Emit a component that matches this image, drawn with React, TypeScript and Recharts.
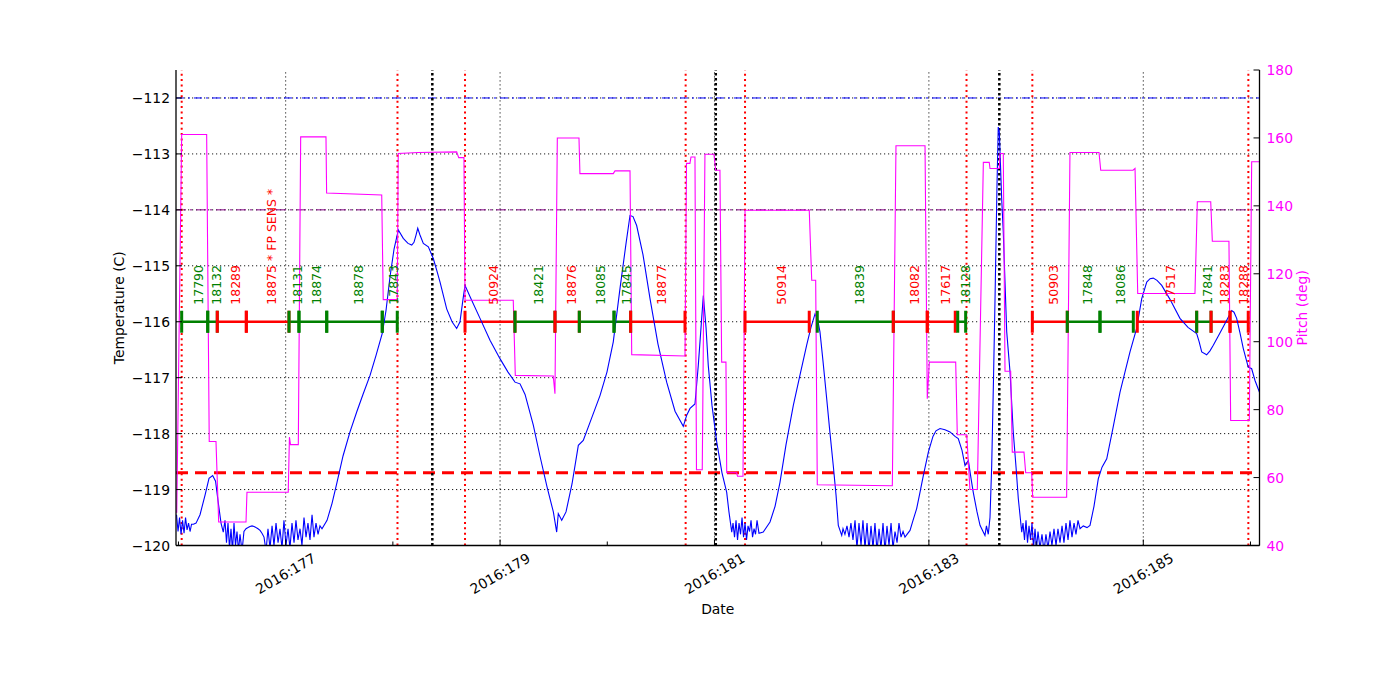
import React from 'react';
import { ComposedChart, Line, XAxis, YAxis, ReferenceLine, Scatter } from 'recharts';

const FONT = '"DejaVu Sans", "Liberation Sans", sans-serif';

// ---------- axes ----------
const X_DOMAIN: [number, number] = [175.977, 186.084];
const DAY_TICKS = [176, 177, 178, 179, 180, 181, 182, 183, 184, 185, 186];
const LABELED_DAYS = [177, 179, 181, 183, 185];
const TEMP_DOMAIN: [number, number] = [-120, -111.5];
const TEMP_TICKS = [-120, -119, -118, -117, -116, -115, -114, -113, -112];
const TEMP_GRID = [-119, -118, -117, -116, -115, -114, -113, -112];
const PITCH_DOMAIN: [number, number] = [40, 180];
const PITCH_TICKS = [40, 60, 80, 100, 120, 140, 160, 180];

// ---------- limit lines ----------
const PLANNING_LIMIT = -112;
const YELLOW_LIMIT = -114;
const ACIS_I_LIMIT = -118.7;
const RADZONE_DAYS = [176.03, 178.043, 178.673, 180.731, 181.285, 183.351, 183.965, 185.98];
const PERIGEE_DAYS = [178.368, 181.012, 183.657];

// ---------- observation schedule ----------
const SCHED_LEVEL = -116;
const SEG_START = [176.030, 176.273, 176.362, 176.633, 177.031, 177.124, 177.383, 177.901,
  178.673, 179.139, 179.512, 179.739, 180.063, 180.218,
  181.285, 181.959, 182.668, 182.985, 183.269,
  183.965, 184.291, 184.596, 184.944, 185.498, 185.632, 185.809];
const SEG_END = [176.273, 176.362, 176.633, 177.031, 177.124, 177.383, 177.901, 178.041,
  179.139, 179.512, 179.739, 180.063, 180.218, 180.725,
  181.884, 182.668, 182.985, 183.246, 183.343,
  184.291, 184.596, 184.907, 185.498, 185.632, 185.809, 185.979];
const SEG_OBSID = ['17790', '18132', '18289', '18875 * FP SENS *', '18131', '18874', '18878', '17843',
  '50924', '18421', '18876', '18085', '17845', '18877',
  '50914', '18839', '18082', '17617', '18128',
  '50903', '17848', '18086', '17517', '17841', '18283', '18288'];
const SEG_KIND = ['g', 'g', 'r', 'r', 'g', 'g', 'g', 'g',
  'r', 'g', 'r', 'g', 'g', 'r',
  'r', 'g', 'r', 'r', 'g',
  'r', 'g', 'g', 'r', 'g', 'r', 'r'];

// ---------- FPTEMP (C) ----------
const TEMP_POINTS: [number, number][] = [
  [175.982, -119.45], [175.996, -119.75], [176.010, -119.5], [176.024, -119.8], [176.038, -119.55],
  [176.052, -119.78], [176.066, -119.5], [176.080, -119.72], [176.094, -119.6], [176.108, -119.75],
  [176.122, -119.62], [176.140, -119.62], [176.164, -119.6], [176.201, -119.45], [176.248, -119.1],
  [176.285, -118.8], [176.319, -118.75], [176.346, -118.85], [176.369, -119.2], [176.397, -119.6],
  [176.418, -119.76], [176.434, -119.55], [176.448, -119.95], [176.462, -119.6], [176.476, -120.05],
  [176.490, -119.7], [176.504, -120.1], [176.518, -119.6], [176.532, -120.0], [176.546, -119.75],
  [176.560, -120.1], [176.574, -119.8], [176.593, -120.1], [176.611, -119.75], [176.630, -119.7],
  [176.649, -119.68], [176.667, -119.66], [176.686, -119.65], [176.705, -119.66], [176.723, -119.68],
  [176.742, -119.7], [176.761, -119.73], [176.779, -119.78], [176.798, -119.85], [176.817, -120.1],
  [176.835, -119.7], [176.854, -120.05], [176.873, -119.65], [176.891, -120.0], [176.910, -119.6],
  [176.929, -119.95], [176.947, -119.7], [176.966, -120.05], [176.984, -119.55], [177.003, -120.0],
  [177.022, -119.7], [177.040, -120.05], [177.059, -119.6], [177.078, -119.95], [177.096, -119.55],
  [177.115, -119.9], [177.134, -119.7], [177.152, -120.0], [177.171, -119.5], [177.190, -119.85],
  [177.208, -119.6], [177.227, -119.9], [177.246, -119.45], [177.264, -119.85], [177.283, -119.6],
  [177.302, -119.8], [177.320, -119.65], [177.339, -119.7], [177.386, -119.55], [177.432, -119.25],
  [177.479, -118.87], [177.535, -118.4], [177.600, -117.97], [177.665, -117.6], [177.721, -117.3],
  [177.787, -116.96], [177.843, -116.6], [177.901, -116.21], [177.936, -115.8], [177.973, -115.2],
  [178.011, -114.7], [178.051, -114.36], [178.097, -114.51], [178.141, -114.6], [178.176, -114.63],
  [178.197, -114.58], [178.216, -114.45], [178.232, -114.33], [178.253, -114.45], [178.284, -114.6],
  [178.331, -114.66], [178.377, -114.87], [178.412, -115.1], [178.440, -115.29], [178.502, -115.77],
  [178.552, -116.0], [178.595, -116.12], [178.626, -116.0], [178.654, -115.6], [178.673, -115.35],
  [178.719, -115.55], [178.813, -115.94], [178.906, -116.33], [178.999, -116.66], [179.074, -116.9],
  [179.139, -117.08], [179.186, -117.11], [179.233, -117.3], [179.310, -117.85], [179.372, -118.4],
  [179.438, -118.95], [179.497, -119.4], [179.528, -119.76], [179.543, -119.43], [179.575, -119.55],
  [179.615, -119.4], [179.671, -118.9], [179.730, -118.21], [179.776, -118.12], [179.839, -117.8],
  [179.932, -117.32], [179.997, -116.9], [180.056, -116.36], [180.119, -115.4], [180.175, -114.6],
  [180.212, -114.1], [180.240, -114.12], [180.274, -114.28], [180.333, -114.8], [180.399, -115.59],
  [180.473, -116.4], [180.554, -117.08], [180.632, -117.6], [180.709, -117.87], [180.741, -117.67],
  [180.772, -117.55], [180.818, -117.47], [180.849, -116.78], [180.896, -115.53], [180.921, -116.1],
  [180.942, -116.78], [180.977, -117.5], [181.021, -118.15], [181.070, -118.7], [181.114, -119.05],
  [181.135, -119.4], [181.161, -119.76], [181.173, -119.6], [181.187, -119.85], [181.201, -119.55],
  [181.215, -119.9], [181.229, -119.6], [181.243, -119.8], [181.257, -119.5], [181.271, -119.85],
  [181.285, -119.6], [181.299, -119.9], [181.313, -119.65], [181.327, -119.75], [181.341, -119.55],
  [181.355, -119.85], [181.369, -119.7], [181.383, -119.8], [181.397, -119.55], [181.415, -119.78],
  [181.455, -119.76], [181.518, -119.58], [181.565, -119.3], [181.611, -118.87], [181.667, -118.2],
  [181.735, -117.5], [181.798, -116.95], [181.860, -116.42], [181.900, -116.1], [181.938, -115.86],
  [181.961, -115.95], [181.984, -116.18], [182.012, -116.7], [182.047, -117.38], [182.078, -118.0],
  [182.108, -118.57], [182.134, -119.1], [182.155, -119.64], [182.187, -119.82], [182.199, -119.7],
  [182.217, -119.8], [182.236, -119.65], [182.255, -119.85], [182.273, -119.6], [182.292, -119.9],
  [182.311, -119.55], [182.329, -120.05], [182.348, -119.6], [182.367, -120.0], [182.385, -119.55],
  [182.404, -120.05], [182.423, -119.6], [182.441, -120.1], [182.460, -119.65], [182.479, -120.05],
  [182.497, -119.6], [182.516, -120.1], [182.535, -119.7], [182.553, -120.05], [182.572, -119.6],
  [182.591, -120.1], [182.609, -119.65], [182.628, -120.0], [182.647, -119.6], [182.665, -120.05],
  [182.684, -119.75], [182.703, -119.95], [182.721, -119.6], [182.740, -119.85], [182.759, -119.75],
  [182.777, -119.85], [182.796, -119.8], [182.824, -119.73], [182.852, -119.55], [182.886, -119.34],
  [182.917, -119.05], [182.948, -118.75], [182.995, -118.33], [183.038, -118.05], [183.066, -117.95],
  [183.104, -117.91], [183.150, -117.93], [183.197, -117.97], [183.244, -118.05], [183.274, -118.09],
  [183.309, -118.3], [183.337, -118.57], [183.368, -118.48], [183.393, -118.8], [183.414, -119.05],
  [183.449, -119.4], [183.477, -119.64], [183.505, -119.75], [183.523, -119.82], [183.537, -119.65],
  [183.554, -119.8], [183.570, -119.5], [183.586, -118.57], [183.603, -117.0], [183.617, -115.59],
  [183.635, -113.6], [183.647, -112.52], [183.657, -112.6], [183.679, -113.8], [183.694, -114.4],
  [183.726, -116.18], [183.757, -116.9], [183.787, -117.97], [183.813, -118.6], [183.834, -119.16],
  [183.866, -119.76], [183.878, -119.6], [183.892, -119.9], [183.906, -119.55], [183.920, -119.95],
  [183.934, -119.65], [183.948, -119.9], [183.962, -119.6], [183.976, -120.05], [183.990, -119.7],
  [184.004, -120.05], [184.018, -119.75], [184.036, -120.05], [184.055, -119.8], [184.074, -120.1],
  [184.092, -119.8], [184.111, -120.05], [184.130, -119.75], [184.148, -120.0], [184.167, -119.7],
  [184.186, -120.0], [184.204, -119.7], [184.223, -119.95], [184.242, -119.65], [184.260, -119.95],
  [184.279, -119.6], [184.298, -119.9], [184.316, -119.55], [184.335, -119.85], [184.354, -119.6],
  [184.372, -119.8], [184.391, -119.55], [184.410, -119.7], [184.440, -119.65], [184.475, -119.68],
  [184.503, -119.64], [184.540, -119.3], [184.580, -118.81], [184.615, -118.6], [184.659, -118.45],
  [184.717, -117.9], [184.783, -117.26], [184.829, -116.9], [184.876, -116.54], [184.938, -116.12],
  [184.985, -115.59], [185.032, -115.29], [185.063, -115.23], [185.093, -115.22], [185.128, -115.26],
  [185.172, -115.35], [185.249, -115.6], [185.342, -115.94], [185.417, -116.1], [185.498, -116.21],
  [185.520, -116.35], [185.545, -116.54], [185.591, -116.59], [185.622, -116.52], [185.653, -116.42],
  [185.715, -116.2], [185.771, -116.0], [185.825, -115.8], [185.846, -115.83], [185.871, -115.94],
  [185.902, -116.2], [185.933, -116.48], [185.979, -116.81], [186.011, -116.84], [186.042, -117.05],
  [186.084, -117.26],
];

// ---------- Pitch (deg) ----------
const PITCH_POINTS: [number, number][] = [
  [175.977, 49.8], [175.984, 49.8], [176.030, 161], [176.263, 161], [176.287, 70.6],
  [176.350, 70.6], [176.375, 46.9], [176.630, 46.9], [176.639, 55.7], [177.024, 55.7],
  [177.035, 71.9], [177.045, 69.7], [177.118, 69.7], [177.140, 160.3], [177.376, 160.3],
  [177.382, 143.8], [177.896, 143.2], [177.910, 112.4], [178.041, 112.4], [178.050, 155.4],
  [178.234, 155.7], [178.595, 155.9], [178.614, 154.2], [178.663, 154.2], [178.673, 112.2],
  [179.123, 112.2], [179.142, 90.1], [179.496, 89.9], [179.512, 84.7], [179.534, 160],
  [179.736, 160], [179.745, 149.5], [180.056, 149.5], [180.072, 150.3], [180.212, 150.3],
  [180.228, 96.2], [180.725, 95.8], [180.739, 152.5], [180.771, 152.5], [180.781, 154.4],
  [180.818, 154.4], [180.832, 62.3], [180.886, 62.3], [180.911, 155.2], [180.995, 155.2],
  [181.011, 150.5], [181.051, 150.5], [181.067, 94], [181.107, 94], [181.114, 61.4],
  [181.207, 61.4], [181.215, 60.4], [181.266, 60.4], [181.285, 138.7], [181.884, 138.7],
  [181.907, 118.1], [181.944, 118.1], [181.959, 57.9], [182.659, 57.6], [182.693, 157.7],
  [182.964, 157.7], [182.985, 83.2], [183.004, 94], [183.250, 94], [183.265, 72.6],
  [183.353, 72.6], [183.383, 56.5], [183.452, 56.5], [183.508, 152.8], [183.563, 152.8],
  [183.570, 151], [183.657, 151], [183.663, 155.4], [183.694, 155.4], [183.710, 91.3],
  [183.763, 91.3], [183.778, 67.5], [183.887, 67.5], [183.903, 61.4], [183.959, 61.4],
  [183.968, 54.2], [184.285, 54.2], [184.316, 155.7], [184.587, 155.7], [184.603, 150.5],
  [184.904, 150.5], [184.923, 151], [184.948, 114.2], [185.482, 114.2], [185.504, 141.2],
  [185.629, 141.2], [185.644, 129.6], [185.799, 129.6], [185.815, 76.8], [185.989, 76.8],
  [186.011, 153], [186.084, 153],
];

// ---------- colours ----------
const C_TEMP = '#0000ff';
const C_PITCH = '#ff00ff';
const C_GREEN = '#008000';
const C_RED = '#ff0000';
const C_PURPLE = '#800080';

const tempData = TEMP_POINTS.map(([t, v]) => ({ t, v }));
const pitchData = PITCH_POINTS.map(([t, v]) => ({ t, v }));
const segments = SEG_START.map((s, i) => ({
  start: s,
  end: SEG_END[i],
  id: SEG_OBSID[i],
  color: SEG_KIND[i] === 'g' ? C_GREEN : C_RED,
}));
const labelData = segments.map((s) => ({ t: (s.start + s.end) / 2, v: SCHED_LEVEL, id: s.id, color: s.color }));

const fmtMinus = (v: number) => (v < 0 ? '\u2212' + Math.abs(v) : String(v));

const BottomTick = (props: any) => {
  const { x, y, payload } = props;
  const major = LABELED_DAYS.includes(payload.value);
  return (
    <g>
      <line x1={x} x2={x} y1={y} y2={y - (major ? 6 : 4)} stroke="#000" strokeWidth={1} />
      {major && (
        <text
          x={x}
          y={y + 28}
          transform={`rotate(-30 ${x} ${y + 28})`}
          textAnchor="middle"
          dominantBaseline="central"
          fontSize={13.9}
          fontFamily={FONT}
          fill="#000"
        >
          {`2016:${payload.value}`}
        </text>
      )}
    </g>
  );
};

const TopTick = (props: any) => {
  const { x, y, payload } = props;
  const major = LABELED_DAYS.includes(payload.value);
  return <line x1={x} x2={x} y1={y} y2={y + (major ? 6 : 4)} stroke="#000" strokeWidth={1} />;
};

const LeftTick = (props: any) => {
  const { x, y, payload } = props;
  return (
    <g>
      <line x1={x} x2={x + 6} y1={y} y2={y} stroke="#000" strokeWidth={1} />
      <text x={x - 6} y={y} textAnchor="end" dominantBaseline="central" fontSize={13.9} fontFamily={FONT} fill="#000">
        {fmtMinus(payload.value)}
      </text>
    </g>
  );
};

const RightTick = (props: any) => {
  const { x, y, payload } = props;
  return (
    <g>
      <line x1={x} x2={x - 6} y1={y} y2={y} stroke="#000" strokeWidth={1} />
      <text x={x + 7} y={y} textAnchor="start" dominantBaseline="central" fontSize={13.9} fontFamily={FONT} fill={C_PITCH}>
        {payload.value}
      </text>
    </g>
  );
};

const segTick = (color: string) => (p: any) => (
  <line key={`tk-${p.index}`} x1={p.cx} x2={p.cx} y1={p.cy - 11} y2={p.cy + 11} stroke={color} strokeWidth={3} />
);

const ObsLabel = (p: any) => {
  const x = p.cx + 4;
  const y = p.cy - 17;
  return (
    <text
      x={x}
      y={y}
      transform={`rotate(-90 ${x} ${y})`}
      textAnchor="start"
      dominantBaseline="central"
      fontSize={12.5}
      fontFamily={FONT}
      fill={p.payload.color}
    >
      {p.payload.id}
    </text>
  );
};

const FRAME = { stroke: '#000', strokeWidth: 1.3 };

export default function App() {
  return (
    <div style={{ position: 'absolute', left: 0, top: 0, width: 1400, height: 700, background: '#fff' }}>
      <ComposedChart width={1400} height={700} margin={{ top: 70, right: 80.5, bottom: 94.5, left: 116 }}>
        <XAxis
          dataKey="t"
          type="number"
          domain={X_DOMAIN}
          allowDataOverflow
          ticks={DAY_TICKS}
          interval={0}
          tick={<BottomTick />}
          tickLine={false}
          tickSize={0}
          tickMargin={0}
          axisLine={FRAME}
          height={60}
          label={{
            content: (p: any) => (
              <text
                x={p.viewBox.x + p.viewBox.width / 2}
                y={p.viewBox.y + 63.5}
                textAnchor="middle"
                dominantBaseline="central"
                fontSize={13.9}
                fontFamily={FONT}
                fill="#000"
              >
                Date
              </text>
            ),
          }}
        />
        <XAxis
          xAxisId="top"
          orientation="top"
          dataKey="t"
          type="number"
          domain={X_DOMAIN}
          allowDataOverflow
          ticks={DAY_TICKS}
          interval={0}
          tick={<TopTick />}
          tickLine={false}
          tickSize={0}
          tickMargin={0}
          axisLine={FRAME}
          height={0}
          label={{
            content: (p: any) => (
              <text
                x={p.viewBox.x + p.viewBox.width / 2}
                y={p.viewBox.y - 13}
                textAnchor="middle"
                dominantBaseline="central"
                fontSize={16.7}
                fontFamily={FONT}
                fill="#000"
              >
                FPTEMP
              </text>
            ),
          }}
        />
        <YAxis
          yAxisId="T"
          orientation="left"
          type="number"
          domain={TEMP_DOMAIN}
          allowDataOverflow
          ticks={TEMP_TICKS}
          interval={0}
          tick={<LeftTick />}
          tickLine={false}
          tickSize={0}
          tickMargin={0}
          axisLine={FRAME}
          width={60}
          label={{
            content: (p: any) => {
              const x = p.viewBox.x + 3;
              const y = p.viewBox.y + p.viewBox.height / 2;
              return (
                <text x={x} y={y} transform={`rotate(-90 ${x} ${y})`} textAnchor="middle" dominantBaseline="central" fontSize={13.9} fontFamily={FONT} fill="#000">
                  Temperature (C)
                </text>
              );
            },
          }}
        />
        <YAxis
          yAxisId="P"
          orientation="right"
          type="number"
          domain={PITCH_DOMAIN}
          allowDataOverflow
          ticks={PITCH_TICKS}
          interval={0}
          tick={<RightTick />}
          tickLine={false}
          tickSize={0}
          tickMargin={0}
          axisLine={FRAME}
          width={60}
          label={{
            content: (p: any) => {
              const x = p.viewBox.x + 42.5;
              const y = p.viewBox.y + p.viewBox.height / 2;
              return (
                <text x={x} y={y} transform={`rotate(-90 ${x} ${y})`} textAnchor="middle" dominantBaseline="central" fontSize={13.9} fontFamily={FONT} fill={C_PITCH}>
                  Pitch (deg)
                </text>
              );
            },
          }}
        />

        {/* grid */}
        {LABELED_DAYS.map((d) => (
          <ReferenceLine key={`gx${d}`} x={d} yAxisId="T" stroke="#000" strokeWidth={0.9} strokeDasharray="1.2 2.8" />
        ))}
        {TEMP_GRID.map((v) => (
          <ReferenceLine key={`gy${v}`} y={v} yAxisId="T" stroke="#000" strokeWidth={0.9} strokeDasharray="1.2 2.8" />
        ))}

        {/* limits */}
        <ReferenceLine y={PLANNING_LIMIT} yAxisId="T" stroke={C_TEMP} strokeWidth={1} strokeDasharray="8 4 2 4" />
        <ReferenceLine y={YELLOW_LIMIT} yAxisId="T" stroke={C_PURPLE} strokeWidth={1} strokeDasharray="10 4 2 4" />
        <ReferenceLine y={ACIS_I_LIMIT} yAxisId="T" stroke={C_RED} strokeWidth={3} strokeDasharray="12 7" />

        {RADZONE_DAYS.map((d) => (
          <ReferenceLine key={`rz${d}`} x={d} yAxisId="T" stroke={C_RED} strokeWidth={2} strokeDasharray="2 3.4" />
        ))}
        {PERIGEE_DAYS.map((d) => (
          <ReferenceLine key={`pg${d}`} x={d} yAxisId="T" stroke="#000" strokeWidth={2.5} strokeDasharray="2.5 2.5" />
        ))}

        {/* schedule */}
        {segments.map((s, i) => (
          <Line
            key={`seg${i}`}
            data={[{ t: s.start, v: SCHED_LEVEL }, { t: s.end, v: SCHED_LEVEL }]}
            dataKey="v"
            yAxisId="T"
            type="linear"
            stroke={s.color}
            strokeWidth={2.5}
            dot={segTick(s.color)}
            activeDot={false}
            isAnimationActive={false}
          />
        ))}
        <Scatter data={labelData} dataKey="v" yAxisId="T" shape={<ObsLabel />} isAnimationActive={false} />

        <Line data={tempData} dataKey="v" yAxisId="T" type="linear" stroke={C_TEMP} strokeWidth={1.1} dot={false} activeDot={false} isAnimationActive={false} />
        <Line data={pitchData} dataKey="v" yAxisId="P" type="linear" stroke={C_PITCH} strokeWidth={1.1} dot={false} activeDot={false} isAnimationActive={false} />
      </ComposedChart>
    </div>
  );
}
